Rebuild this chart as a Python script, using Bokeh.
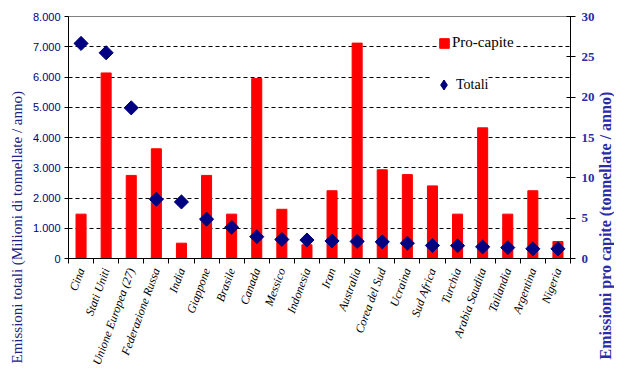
import numpy as np
from bokeh.plotting import figure
from bokeh.models import (Range1d, LinearAxis, FixedTicker, Title, Label, Legend, LegendItem,
                          ColumnDataSource)
from bokeh.embed import file_html
from bokeh.resources import INLINE

# ---- data ----
paesi = ["Cina", "Stati Uniti", "Unione Europea (27)", "Federazione Russa", "India",
         "Giappone", "Brasile", "Canada", "Messico", "Indonesia", "Iran", "Australia",
         "Corea del Sud", "Ucraina", "Sud Africa", "Turchia", "Arabia Saudita",
         "Tailandia", "Argentina", "Nigeria"]
pro_capite = [5.5, 23.0, 10.3, 13.6, 1.9, 10.3, 5.5, 22.3, 6.1, 1.7, 8.4, 26.7,
              11.0, 10.4, 9.0, 5.5, 16.2, 5.5, 8.4, 2.1]
totali = [7110, 6800, 4980, 1960, 1870, 1300, 1030, 720, 630, 610, 580, 565,
          550, 505, 430, 425, 385, 360, 320, 320]
left_ticks = [0, 1000, 2000, 3000, 4000, 5000, 6000, 7000, 8000]
left_tick_labels = ["0", "1.000", "2.000", "3.000", "4.000", "5.000", "6.000", "7.000", "8.000"]
right_ticks = [0, 5, 10, 15, 20, 25, 30]
left_title = "Emissioni totali (Milioni di tonnellate / anno)"
right_title = "Emissioni pro capite (tonnellate / anno)"

n = len(paesi)
xs = list(range(1, n + 1))
src = ColumnDataSource(dict(x=xs, pc=pro_capite, tot=totali, name=paesi))
key_src = ColumnDataSource(dict(x=xs[:1], tot=totali[:1]))

NAVY = "#000080"
BLUE = "#2B2BA8"
SERIF = "Liberation Serif"

p = figure(width=614, height=372, output_backend="svg", toolbar_location=None,
           x_range=Range1d(0.5, n + 0.5), y_range=Range1d(0, 8000),
           min_border_left=68, min_border_right=41, min_border_top=16, min_border_bottom=105,
           background_fill_color="white", border_fill_color="white")
p.extra_y_ranges = {"pc": Range1d(0, 30)}
p.outline_line_color = "#808080"
p.xgrid.visible = False
p.ygrid.ticker = FixedTicker(ticks=left_ticks[1:-1])
p.ygrid.grid_line_color = "black"
p.ygrid.grid_line_dash = "4 3"
p.ygrid.grid_line_width = 1

# x axis
xa = p.xaxis[0]
xa.ticker = FixedTicker(ticks=xs, minor_ticks=[i + 0.5 for i in range(0, n + 1)])
xa.major_label_overrides = {x: name for x, name in zip(xs, paesi)}
xa.major_tick_line_color = None
xa.minor_tick_line_color = "black"
xa.minor_tick_out = 5
xa.minor_tick_in = 0
xa.major_label_orientation = 1.22
xa.major_label_standoff = 4
xa.major_label_text_font = SERIF
xa.major_label_text_font_style = "italic"
xa.major_label_text_font_size = "12px"
xa.major_label_text_color = "black"
xa.axis_line_color = "black"

# left axis
ya = p.yaxis[0]
ya.ticker = FixedTicker(ticks=left_ticks)
ya.major_label_overrides = {t: s for t, s in zip(left_ticks, left_tick_labels)}
ya.major_tick_out = 4
ya.major_tick_in = 0
ya.minor_tick_line_color = None
ya.major_label_standoff = 4
ya.major_label_text_font = "Liberation Sans"
ya.major_label_text_font_size = "11px"
ya.major_label_text_color = NAVY
ya.axis_line_color = "black"

# right axis
ra = LinearAxis(y_range_name="pc", ticker=FixedTicker(ticks=right_ticks))
ra.major_tick_out = 5
ra.major_tick_in = 4
ra.minor_tick_line_color = None
ra.major_label_standoff = 6
ra.major_label_text_font = SERIF
ra.major_label_text_font_style = "bold"
ra.major_label_text_font_size = "13px"
ra.major_label_text_color = BLUE
ra.axis_line_color = "black"
p.add_layout(ra, "right")

bars = p.vbar(x="x", top="pc", width=0.4, source=src, y_range_name="pc",
              fill_color="#FF0000", line_color="#FF0000")
dots = p.scatter(x="x", y="tot", source=src, marker="square", size=10, angle=np.pi / 4,
                 fill_color=NAVY, line_color=NAVY)
# legend key glyph (a diamond hidden under the first rotated square)
key = p.scatter(x="x", y="tot", source=key_src, marker="diamond", size=9,
                fill_color=NAVY, line_color=NAVY)

leg1 = Legend(items=[LegendItem(label="Pro-capite", renderers=[bars])],
              location=(370, 207), glyph_width=12, glyph_height=12, label_height=16,
              padding=8, label_standoff=2, spacing=0,
              background_fill_color="white", background_fill_alpha=1,
              border_line_color=None,
              label_text_font=SERIF, label_text_font_size="15px", label_text_color="black")
leg2 = Legend(items=[LegendItem(label="Totali", renderers=[key])],
              location=(363, 161), glyph_width=25, glyph_height=25, label_height=16,
              padding=6, label_standoff=0, spacing=0,
              background_fill_color="white", background_fill_alpha=1,
              border_line_color=None,
              label_text_font=SERIF, label_text_font_size="14px", label_text_color="black")
p.add_layout(leg1)
p.add_layout(leg2)

# left axis title
lt = Title(text=left_title, align="left", offset=-105, standoff=10,
           text_font=SERIF, text_font_size="15px", text_font_style="normal",
           text_color="#20207F")
p.add_layout(lt, "left")

# right axis title, reading bottom-to-top, placed in the right side panel
rl = Label(x=8, y=-101, x_units="screen", y_units="screen", text=right_title,
           angle=np.pi / 2, text_align="left", text_baseline="middle",
           text_font=SERIF, text_font_size="16px", text_font_style="bold",
           text_color=BLUE)
p.add_layout(rl, "right")

open("out.html", "w").write(file_html(p, INLINE))
